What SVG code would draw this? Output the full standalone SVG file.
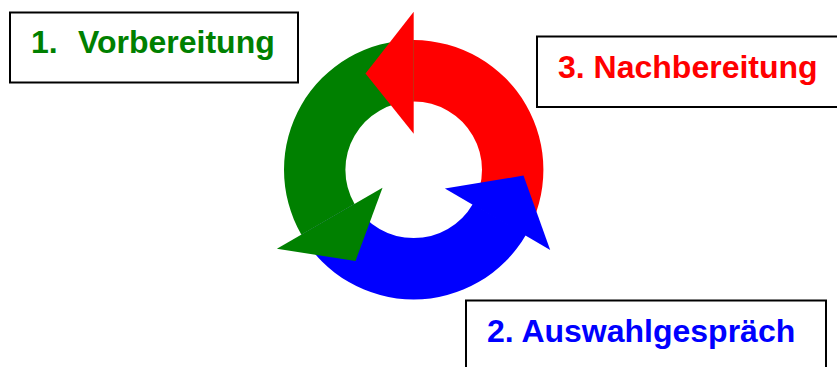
<svg xmlns="http://www.w3.org/2000/svg" width="837" height="367" viewBox="0 0 837 367">
  <style>
    .box { fill: #ffffff; stroke: #000000; stroke-width: 2; }
    .lbl { font-family: "Liberation Sans", Arial, sans-serif; font-weight: bold; font-size: 32px; }
    .green { fill: #008000; }
    .red { fill: #ff0000; }
    .blue { fill: #0000ff; }
  </style>
  <rect width="837" height="367" fill="#ffffff"/>
  <g id="node-vorbereitung">
    <rect class="box" x="10" y="12.5" width="288" height="70"/>
    <text class="lbl green" x="31" y="53">1.</text>
    <text class="lbl green" x="78" y="53">Vorbereitung</text>
  </g>
  <g id="node-nachbereitung">
    <rect class="box" x="537" y="36.5" width="320" height="70.5"/>
    <text class="lbl red" x="558" y="78">3. Nachbereitung</text>
  </g>
  <g id="node-auswahlgespraech">
    <rect class="box" x="466" y="300.5" width="360" height="90"/>
    <text class="lbl blue" x="487" y="342">2. Auswahlgespräch</text>
  </g>
  <g id="connectors">
    <!-- shafts -->
    <path class="red" d="M526.02,234.65 A129.7,129.7 0 0 0 413.7,40.1 L413.7,101.5 A68.3,68.3 0 0 1 472.85,203.95 Z"/>
    <path class="blue" d="M301.38,234.65 A129.7,129.7 0 0 0 526.02,234.65 L472.85,203.95 A68.3,68.3 0 0 1 354.55,203.95 Z"/>
    <path class="green" d="M413.7,40.1 A129.7,129.7 0 0 0 301.38,234.65 L354.55,203.95 A68.3,68.3 0 0 1 413.7,101.5 Z"/>
    <!-- heads -->
    <polygon class="red" points="413.7,133.8 413.7,11.8 365.5,73.5"/>
    <polygon class="blue" points="444.9,188.5 550.2,250 523.5,175.6"/>
    <polygon class="green" points="382.5,187.8 276.9,248.8 355.5,261"/>
  </g>
</svg>
